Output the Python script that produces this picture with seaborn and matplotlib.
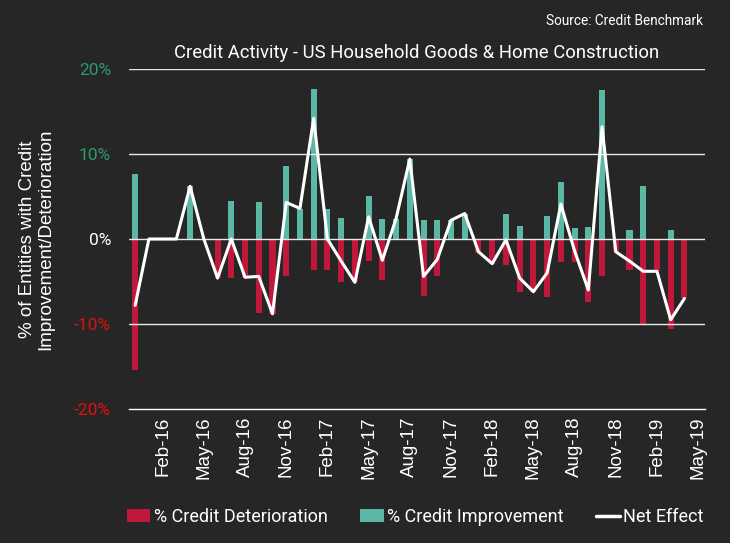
import numpy as np
import pandas as pd
import matplotlib.pyplot as plt
import seaborn as sns
from matplotlib.patches import Patch
from matplotlib.lines import Line2D

BG = "#262626"
RED = "#c0183a"
GREEN = "#5cb8a6"

sns.set_style("dark")
plt.rcParams["font.family"] = ["Roboto", "DejaVu Sans"]

months = pd.date_range("2015-12-01", "2019-04-01", freq="MS").strftime("%b-%y").tolist()

improvement = [7.6, 0, 0, 0, 6.2, 0, 0, 4.5, 0, 4.4, 0, 8.6, 3.5,
               17.7, 3.5, 2.5, 0, 5.1, 2.4, 2.4, 9.4, 2.2, 2.2, 2.2, 3.0,
               0, 0, 3.0, 1.5, 0, 2.7, 6.7, 1.3, 1.4, 17.5, 0, 1.1,
               6.2, 0, 1.1, 0]
deterioration = [-15.4, 0, 0, 0, 0, 0, -4.6, -4.6, -4.6, -8.7, -8.8, -4.3, 0,
                 -3.6, -3.6, -5.1, -5.1, -2.6, -4.8, 0, 0, -6.7, -4.4, 0, 0,
                 -1.6, -2.9, -3.1, -6.2, -6.2, -6.8, -2.7, -2.7, -7.4, -4.4, -1.5, -3.7,
                 -10.1, -3.8, -10.6, -7.0]
net_effect = [-7.8, 0, 0, 0, 6.2, 0, -4.6, 0, -4.5, -4.4, -8.8, 4.3, 3.6,
              14.2, 0, -2.6, -5.1, 2.6, -2.5, 2.4, 9.4, -4.4, -2.4, 2.2, 3.0,
              -1.5, -2.9, -0.1, -4.6, -6.2, -4.0, 4.1, -1.4, -6.0, 13.2, -1.5, -2.6,
              -3.8, -3.8, -9.5, -7.0]

tick_labels = ["Feb-16", "May-16", "Aug-16", "Nov-16", "Feb-17", "May-17", "Aug-17",
               "Nov-17", "Feb-18", "May-18", "Aug-18", "Nov-18", "Feb-19", "May-19"]
y_ticks = [-20, -10, 0, 10, 20]
y_tick_labels = ["-20%", "-10%", "0%", "10%", "20%"]
y_tick_colors = ["#e01010", "#e01010", "white", "#2e9a6c", "#2e9a6c"]

df = pd.DataFrame({"month": months, "improvement": improvement,
                   "deterioration": deterioration, "net": net_effect})
df["pos"] = np.arange(len(df))

fig = plt.figure(figsize=(7.30, 5.43), dpi=100, facecolor=BG)
ax = fig.add_axes([0.1767, 0.2468, 0.7891, 0.6261], facecolor=BG)

sns.barplot(data=df, x="month", y="improvement", order=months, color=GREEN,
            width=0.44, saturation=1, linewidth=0, edgecolor="none", ax=ax)
sns.barplot(data=df, x="month", y="deterioration", order=months, color=RED,
            width=0.44, saturation=1, linewidth=0, edgecolor="none", ax=ax)
sns.lineplot(x=df["pos"], y=df["net"], color="white", linewidth=2.2, ax=ax, zorder=5)

ax.set_xlim(-0.45, 41.5)
ax.set_ylim(-20, 20)
for y in [-10, 0, 10, 20]:
    ax.axhline(y, color="#e8e8e8", linewidth=1, zorder=1)
ax.grid(False)

# x ticks every third month, labels rotated
tick_pos = np.arange(2, 42, 3)
ax.set_xticks(tick_pos)
ax.set_xticklabels(tick_labels, rotation=90, color="white", fontsize=13.5,
                   family="Liberation Sans")
ax.tick_params(axis="x", direction="inout", length=5, width=1, color="white", pad=3)

ax.set_yticks(y_ticks)
ax.set_yticklabels(y_tick_labels, fontsize=12.5)
for lbl, c in zip(ax.get_yticklabels(), y_tick_colors):
    lbl.set_color(c)
ax.tick_params(axis="y", length=3, width=1, color="white", pad=10)

for s in ["top", "right", "left"]:
    ax.spines[s].set_visible(False)
ax.spines["bottom"].set_color("white")
ax.spines["bottom"].set_linewidth(1)

ax.set_xlabel("")
ax.set_ylabel("% of Entities with Credit\nImprovement/Deterioration", color="white",
              fontsize=13.5, family="Liberation Sans", labelpad=14, linespacing=1.1)

ax.set_title("Credit Activity - US Household Goods & Home Construction",
             color="white", fontsize=13.3, pad=8)
fig.text(0.963, 0.975, "Source: Credit Benchmark", color="white", fontsize=9.8,
         ha="right", va="top")

handles = [Patch(facecolor=RED, edgecolor="none"),
           Patch(facecolor=GREEN, edgecolor="none"),
           Line2D([0], [0], color="white", linewidth=2.5)]
labels = ["% Credit Deterioration", "% Credit Improvement", "Net Effect"]
fig.legend(handles, labels, loc="center", bbox_to_anchor=(0.569, 0.048), ncol=3,
           frameon=False, fontsize=13, labelcolor="white", handlelength=1.3,
           handletextpad=0.2, columnspacing=1.8)

fig.savefig("out.png", dpi=100, facecolor=BG)
